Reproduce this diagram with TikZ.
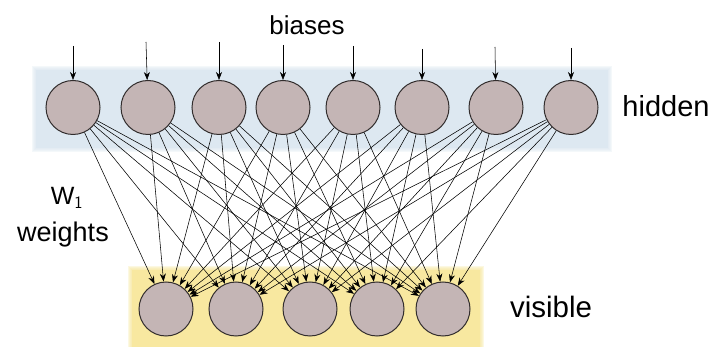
\documentclass[tikz,border=0pt]{standalone}
\usepackage{fontspec}
\setmainfont{Liberation Sans}
\usetikzlibrary{arrows.meta}
\definecolor{unitfill}{RGB}{196,181,181}
\definecolor{unitline}{RGB}{50,45,45}
\definecolor{hiddenband}{RGB}{221,232,241}
\definecolor{visband}{RGB}{248,232,160}
\tikzset{
  unit/.style={circle, draw=unitline, line width=1pt, fill=unitfill, minimum size=54pt, inner sep=0pt},
  wire/.style={line width=0.55pt, -{Stealth[length=8pt,width=6pt]}},
  lbl/.style={inner sep=0pt, font=\fontsize{27}{30}\selectfont}
}
\begin{document}
\begin{tikzpicture}[x=1pt,y=-1pt]
\useasboundingbox (0,0) rectangle (718,347);
\fill[white] (0,0) rectangle (718,347);
% bands with soft edges
\foreach \d in {4,3,2,1}{
  \fill[hiddenband, opacity=0.3] (36-\d,70-\d) rectangle (608+\d,148+\d);
  \fill[visband, opacity=0.3] (132-\d,270-\d) rectangle (480+\d,350);
}
\fill[hiddenband] (36,70) rectangle (608,148);
\fill[visband] (132,270) rectangle (480,347);
% hidden units
\foreach \i/\x in {1/73,2/148,3/219,4/283,5/353,6/422,7/496,8/571}{
  \node[unit] (h\i) at (\x,107.5) {};
}
% visible units
\foreach \j/\x in {1/166,2/236,3/310,4/377,5/443}{
  \node[unit] (v\j) at (\x,309) {};
}
% bias inputs
\foreach \i/\x/\y in {1/73/46,2/146/42,3/219/42,4/283/45,5/353/46,6/422/49,7/495/47,8/571/48}{
  \coordinate (b\i) at (\x,\y);
  \draw[wire] (b\i) -- (h\i);
}
% weights
\foreach \i in {1,...,8}{
  \foreach \j in {1,...,5}{
    \draw[wire] (h\i) -- (v\j);
  }
}
% labels
\node[lbl, font=\fontsize{26}{30}\selectfont] (biases) at (307,25) {biases};
\node[lbl, font=\fontsize{29}{34}\selectfont] (hidden) at (666,106) {hidden};
\node[lbl, font=\fontsize{29.5}{32}\selectfont] (visible) at (551,307) {visible};
\node[lbl, font=\fontsize{25}{30}\selectfont] (w1) at (67,198) {W$_{\mathsf{1}}$};
\node[lbl] (weights) at (63,235) {weights};
\end{tikzpicture}
\end{document}
